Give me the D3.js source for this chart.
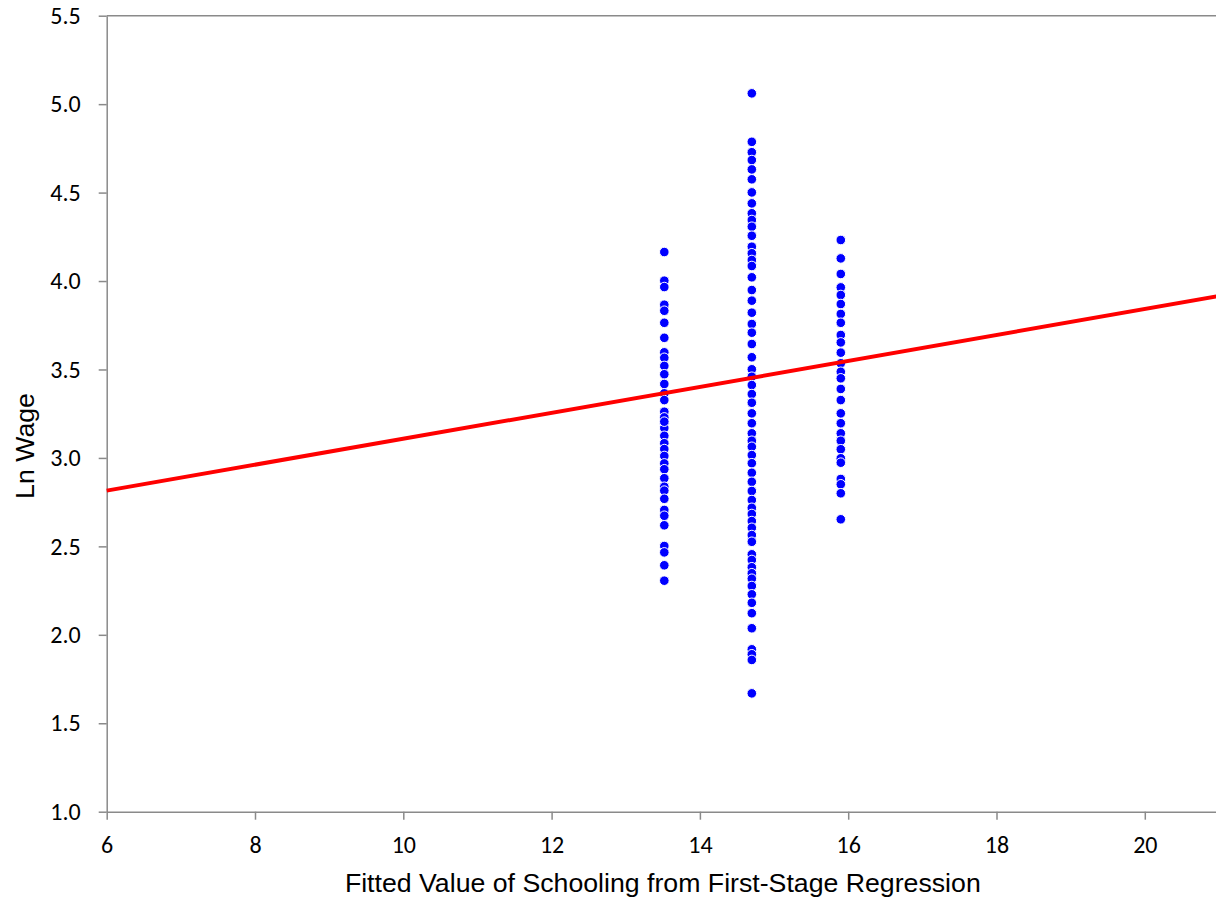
<!DOCTYPE html>
<html>
<head>
<meta charset="utf-8">
<script src="https://cdn.jsdelivr.net/npm/d3@7"></script>
<style>
  html, body { margin: 0; padding: 0; background: #ffffff; }
  svg { display: block; }
</style>
</head>
<body>
<div id="chart"></div>
<script>
// ---- Data ----
const schoolingGroups = [13.52, 14.70, 15.90];

const lnWageGroup1 = [4.164, 4.002, 3.966, 3.866, 3.832, 3.764, 3.679, 3.597, 3.566, 3.520,
  3.473, 3.418, 3.365, 3.327, 3.261, 3.229, 3.196, 3.169, 3.205, 3.125, 3.083, 3.050, 3.011,
  2.969, 2.936, 2.885, 2.837, 2.815, 2.769, 2.706, 2.673, 2.619, 2.502, 2.466, 2.393, 2.306];

const lnWageGroup2 = [5.061, 4.787, 4.728, 4.684, 4.631, 4.575, 4.501, 4.439, 4.383, 4.345,
  4.307, 4.256, 4.194, 4.157, 4.119, 4.085, 4.021, 3.949, 3.889, 3.821, 3.757, 3.708, 3.644,
  3.569, 3.501, 3.459, 3.412, 3.361, 3.312, 3.252, 3.196, 3.139, 3.097, 3.063, 3.016, 2.970,
  2.916, 2.865, 2.813, 2.762, 2.718, 2.683, 2.643, 2.605, 2.564, 2.526, 2.455, 2.423, 2.382,
  2.348, 2.317, 2.276, 2.229, 2.181, 2.122, 2.037, 1.918, 1.890, 1.858, 1.669];

const lnWageGroup3 = [4.232, 4.128, 4.040, 3.964, 3.921, 3.870, 3.814, 3.764, 3.695, 3.653,
  3.595, 3.535, 3.487, 3.450, 3.390, 3.327, 3.252, 3.196, 3.139, 3.097, 3.049, 2.998, 2.973,
  2.881, 2.851, 2.800, 2.653];

const fitX = [6, 21];
const fitY = [2.815, 3.915];

const xTicks = [6, 8, 10, 12, 14, 16, 18, 20];
const yTicks = [1.0, 1.5, 2.0, 2.5, 3.0, 3.5, 4.0, 4.5, 5.0, 5.5];

const xTitle = "Fitted Value of Schooling from First-Stage Regression";
const yTitle = "Ln Wage";

// ---- Build ----
const W = 1216, H = 902;
const plotLeft = 106.7, plotTop = 15.7, plotBottom = 811.7;
const pxPerUnit = 74.15;

const x = d3.scaleLinear().domain([6, 21]).range([plotLeft, plotLeft + 15 * pxPerUnit]);
const y = d3.scaleLinear().domain([1, 5.5]).range([plotBottom, plotTop]);

const svg = d3.select("#chart").append("svg")
  .attr("width", W).attr("height", H);

const axisColor = "#8a8a8a";
const tickFont = "Carlito, Calibri, Lato, sans-serif";

// top border
svg.append("line")
  .attr("x1", x(6)).attr("x2", W)
  .attr("y1", y(5.5)).attr("y2", y(5.5))
  .attr("stroke", axisColor).attr("stroke-width", 1.5);

// Y axis
const yAxis = svg.append("g")
  .attr("transform", `translate(${x(6)},0)`)
  .call(d3.axisLeft(y).tickValues(yTicks).tickFormat(d3.format(".1f"))
    .tickSize(8).tickSizeOuter(0).tickPadding(18));
yAxis.select(".domain").attr("stroke", axisColor).attr("stroke-width", 1.5);
yAxis.selectAll(".tick line").attr("stroke", axisColor).attr("stroke-width", 1.5);
yAxis.selectAll(".tick text")
  .attr("font-family", tickFont).attr("font-size", 24).attr("fill", "#000");

// X axis
const xAxis = svg.append("g")
  .attr("transform", `translate(0,${y(1)})`)
  .call(d3.axisBottom(x).tickValues(xTicks).tickFormat(d3.format("d"))
    .tickSize(8).tickSizeOuter(0).tickPadding(16));
xAxis.select(".domain").attr("stroke", axisColor).attr("stroke-width", 1.5);
xAxis.selectAll(".tick line").attr("stroke", axisColor).attr("stroke-width", 1.5);
xAxis.selectAll(".tick text")
  .attr("font-family", tickFont).attr("font-size", 24).attr("fill", "#000");

// Points
const groups = [lnWageGroup1, lnWageGroup2, lnWageGroup3];
const points = [];
groups.forEach((vals, i) => vals.forEach(v => points.push({ s: schoolingGroups[i], w: v })));

svg.append("g").selectAll("circle")
  .data(points).join("circle")
  .attr("cx", d => x(d.s))
  .attr("cy", d => y(d.w))
  .attr("r", 4.8)
  .attr("fill", "#0000ff")
  .attr("stroke", "#ffffff")
  .attr("stroke-width", 1);

// Fitted line
const line = d3.line().x(d => x(d[0])).y(d => y(d[1]));
svg.append("path")
  .datum(fitX.map((v, i) => [v, fitY[i]]))
  .attr("d", line)
  .attr("fill", "none")
  .attr("stroke", "#ff0000")
  .attr("stroke-width", 4);

// Titles
svg.append("text")
  .attr("x", (x(6) + x(21)) / 2).attr("y", 891.5)
  .attr("text-anchor", "middle")
  .attr("font-family", "Arial, 'Liberation Sans', sans-serif")
  .attr("font-size", 26.7)
  .attr("fill", "#000")
  .text(xTitle);

svg.append("text")
  .attr("transform", `translate(34,446) rotate(-90)`)
  .attr("text-anchor", "middle")
  .attr("font-family", "Arial, 'Liberation Sans', sans-serif")
  .attr("font-size", 26.7)
  .attr("fill", "#000")
  .text(yTitle);
</script>
</body>
</html>
